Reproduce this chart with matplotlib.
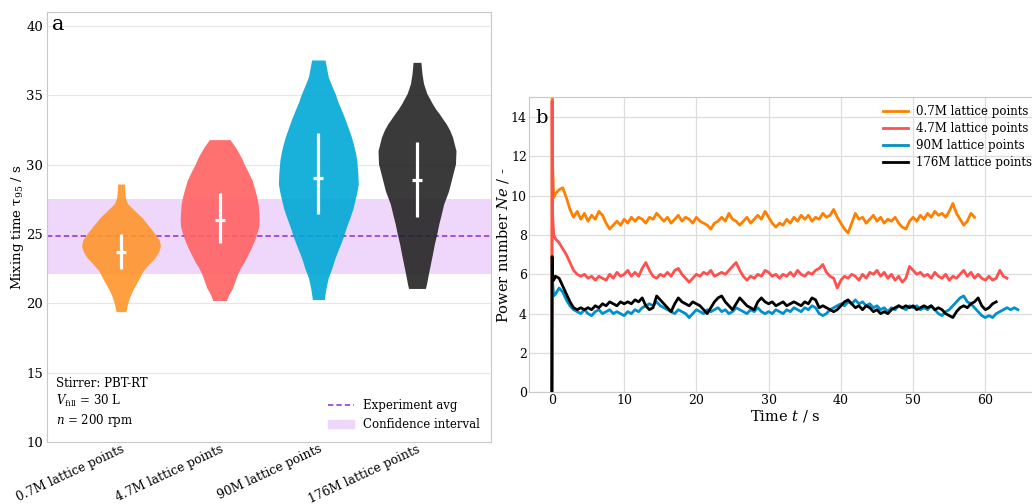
"""
Mixing time violins (a) and power number time series (b)
for four lattice resolutions.
"""

import numpy as np
import matplotlib
matplotlib.use("Agg")
import matplotlib.pyplot as plt
from matplotlib.lines import Line2D
from matplotlib.patches import Patch

plt.rcParams["font.family"] = ["DejaVu Serif"]
plt.rcParams["mathtext.fontset"] = "dejavuserif"


GRIDS = ["0.7M lattice points", "4.7M lattice points", "90M lattice points", "176M lattice points"]

# panel a: violin outlines (mixing time in s, half width in category units)
ORANGE_Y = [19.4, 19.9, 20.4, 20.9, 21.35, 21.8, 22.3, 22.8, 23.3, 23.7, 24.15,
            24.6, 25.0, 25.46, 25.85, 26.2, 26.6, 26.95, 27.2, 27.6, 28.1, 28.6]
ORANGE_W = [0.05, 0.065, 0.085, 0.115, 0.15, 0.185, 0.22, 0.28, 0.345, 0.38, 0.40,
            0.385, 0.345, 0.295, 0.25, 0.21, 0.15, 0.10, 0.065, 0.045, 0.037, 0.035]

RED_Y = [20.2, 20.6, 21.1, 21.6, 22.1, 22.6, 23.0, 23.5, 24.0, 24.5, 25.0, 25.5,
         25.95, 26.5, 27.15, 27.7, 28.1, 28.85, 29.6, 30.0, 30.5, 31.25, 31.8]
RED_W = [0.07, 0.09, 0.13, 0.155, 0.18, 0.215, 0.25, 0.285, 0.32, 0.35, 0.375, 0.395,
         0.40, 0.397, 0.39, 0.375, 0.36, 0.33, 0.28, 0.25, 0.22, 0.16, 0.105]

CYAN_Y = [20.27, 21.0, 21.83, 22.5, 23.28, 24.0, 24.73, 25.5, 26.18, 26.8, 27.39,
          28.0, 28.6, 29.4, 30.29, 30.9, 31.5, 32.1, 32.7, 33.3, 33.91, 34.5,
          35.12, 35.7, 36.33, 36.9, 37.54]
CYAN_W = [0.06, 0.075, 0.10, 0.135, 0.17, 0.21, 0.25, 0.285, 0.32, 0.35, 0.37,
          0.39, 0.405, 0.40, 0.39, 0.375, 0.355, 0.33, 0.30, 0.27, 0.235, 0.20,
          0.17, 0.135, 0.10, 0.085, 0.068]

DARK_Y = [21.07, 21.35, 22.1, 22.8, 23.5, 24.25, 25.0, 25.7, 26.4, 27.15, 28.1,
          29.08, 30.05, 31.0, 31.98, 32.5, 32.95, 33.3, 33.67, 34.0, 34.4,
          34.8, 35.12, 35.5, 35.85, 36.57, 37.37]
DARK_W = [0.085, 0.095, 0.115, 0.135, 0.155, 0.175, 0.20, 0.22, 0.245, 0.27, 0.32,
          0.355, 0.39, 0.395, 0.36, 0.33, 0.295, 0.26, 0.225, 0.19, 0.155,
          0.125, 0.10, 0.082, 0.066, 0.05, 0.04]

# inner bar: lower end, upper end, centre mark
INNER_LO = [22.44, 24.37, 26.43, 26.23]
INNER_HI = [24.98, 27.92, 32.27, 31.62]
INNER_MID = [23.7, 26.0, 29.06, 28.89]

EXP_AVG = 24.86
CI_LO = 22.12
CI_HI = 27.52

# panel b: power number Ne, start-up transient then 0.5 s samples from t = 0.5 s
START_T = [0.0, 0.03, 0.1, 0.25]
ORANGE_START = [0.0, 20.0, 11.5, 9.9]
RED_START = [0.0, 14.8, 9.0, 8.0]
BLUE_START = [0.0, 6.5, 5.6, 4.9]
BLACK_START = [0.0, 6.9, 6.0, 5.7]

ORANGE_NE = [
    10.1, 10.3, 10.4, 9.9, 9.3, 8.9, 9.2, 8.8, 9.1, 8.7,
    9.0, 8.8, 9.2, 9.0, 8.6, 8.3, 8.5, 8.7, 8.5, 8.8,
    8.6, 8.9, 8.7, 8.9, 8.8, 8.6, 8.9, 8.8, 9.1, 8.9,
    8.7, 8.9, 8.6, 8.8, 9.0, 8.7, 8.9, 8.8, 8.6, 8.9,
    8.7, 8.6, 8.5, 8.3, 8.6, 8.7, 8.9, 8.7, 9.1, 8.8,
    8.7, 8.5, 8.7, 8.9, 8.6, 8.8, 9.0, 8.8, 9.2, 8.9,
    8.6, 8.4, 8.6, 8.5, 8.8, 8.6, 8.9, 8.7, 9.0, 8.8,
    9.0, 8.7, 8.9, 8.8, 9.1, 8.9, 9.0, 9.3, 8.9, 8.6,
    8.3, 8.1, 8.6, 9.1, 8.8, 8.9, 8.6, 8.8, 9.0, 8.7,
    8.9, 8.6, 8.8, 8.7, 8.9, 8.6, 8.4, 8.3, 8.7, 8.9,
    8.7, 9.0, 8.8, 9.1, 8.9, 9.2, 9.0, 9.1, 8.9, 9.2,
    9.6, 9.1, 8.8, 8.5, 8.7, 9.1, 8.9,
]

RED_NE = [
    7.8, 7.6, 7.3, 7.0, 6.6, 6.2, 6.0, 5.9, 6.0, 5.8,
    5.9, 5.7, 5.9, 5.8, 5.7, 6.0, 5.8, 6.1, 5.9, 6.0,
    6.2, 5.9, 6.1, 5.9, 6.3, 6.6, 6.2, 5.9, 5.8, 6.0,
    5.9, 6.1, 5.9, 6.2, 6.3, 6.0, 5.8, 5.6, 5.8, 6.0,
    5.9, 6.1, 6.0, 6.2, 5.9, 6.0, 6.1, 6.0, 6.2, 6.4,
    6.6, 6.2, 5.9, 5.7, 5.9, 5.8, 6.0, 5.9, 6.2, 6.1,
    5.9, 6.0, 5.8, 6.0, 5.9, 6.1, 5.9, 6.2, 6.0, 5.9,
    6.1, 6.0, 6.2, 6.3, 6.5, 6.1, 5.9, 5.8, 5.3, 5.7,
    5.9, 5.8, 6.0, 5.9, 5.7, 6.0, 5.8, 6.1, 6.0, 6.2,
    5.9, 6.1, 5.8, 6.0, 5.7, 5.9, 5.6, 5.8, 6.4, 6.2,
    6.0, 6.1, 5.9, 6.0, 5.8, 6.1, 5.9, 5.8, 6.0, 5.7,
    5.9, 5.8, 6.0, 6.2, 5.9, 6.1, 5.8, 6.0, 5.8, 5.7,
    5.9, 5.7, 5.8, 6.2, 5.9, 5.8,
]

BLUE_NE = [
    5.0, 5.3, 5.1, 4.7, 4.4, 4.2, 4.1, 4.0, 4.2, 4.0,
    3.9, 4.1, 4.2, 4.0, 4.1, 4.2, 4.0, 4.1, 4.0, 3.9,
    4.1, 4.0, 4.2, 4.1, 4.3, 4.4, 4.5, 4.4, 4.6, 4.4,
    4.3, 4.2, 4.1, 4.0, 4.2, 4.1, 4.0, 3.8, 4.0, 4.2,
    4.1, 4.0, 4.2, 4.1, 4.2, 4.3, 4.1, 4.2, 4.0, 4.1,
    4.3, 4.2, 4.1, 4.0, 4.2, 4.1, 4.3, 4.1, 4.0, 4.1,
    4.0, 4.2, 4.1, 4.0, 4.2, 4.1, 4.3, 4.2, 4.1, 4.3,
    4.2, 4.4, 4.3, 4.0, 3.9, 4.0, 4.2, 4.3, 4.4, 4.5,
    4.4, 4.6, 4.5, 4.7, 4.5, 4.6, 4.4, 4.5, 4.3, 4.4,
    4.2, 4.3, 4.1, 4.3, 4.2, 4.4, 4.3, 4.2, 4.4, 4.3,
    4.4, 4.2, 4.3, 4.2, 4.4, 4.2, 4.0, 3.9, 4.1, 4.2,
    4.4, 4.6, 4.8, 4.9, 4.6, 4.5, 4.3, 4.1, 3.9, 3.8,
    3.9, 3.8, 4.0, 4.1, 4.2, 4.3, 4.2, 4.3, 4.2,
]

BLACK_NE = [
    5.9, 5.8, 5.4, 5.0, 4.6, 4.3, 4.2, 4.3, 4.2, 4.3,
    4.2, 4.4, 4.3, 4.5, 4.4, 4.6, 4.5, 4.4, 4.6, 4.5,
    4.6, 4.5, 4.7, 4.6, 4.8, 4.4, 4.2, 4.3, 4.9, 4.7,
    4.5, 4.3, 4.1, 4.5, 4.8, 4.6, 4.5, 4.4, 4.6, 4.5,
    4.4, 4.2, 4.0, 4.3, 4.6, 4.8, 4.9, 4.6, 4.4, 4.2,
    4.5, 4.8, 4.6, 4.4, 4.3, 4.2, 4.6, 4.8, 4.6, 4.5,
    4.6, 4.4, 4.5, 4.6, 4.4, 4.5, 4.6, 4.5, 4.4, 4.6,
    4.5, 4.8, 4.7, 4.3, 4.4, 4.3, 4.2, 4.1, 4.2, 4.4,
    4.6, 4.7, 4.5, 4.3, 4.4, 4.2, 4.4, 4.3, 4.1, 4.2,
    4.0, 4.1, 4.0, 4.2, 4.3, 4.4, 4.3, 4.4, 4.3, 4.4,
    4.2, 4.3, 4.4, 4.3, 4.4, 4.2, 4.3, 4.2, 4.0, 3.9,
    3.8, 4.1, 4.3, 4.4, 4.3, 4.5, 4.6, 4.8, 4.4, 4.2,
    4.3, 4.5, 4.6,
]

VIOLIN_COLORS = ["#FF952B", "#FF6262", "#00A8D6", "#242424"]
LINE_COLORS = ["#FF8000", "#FF5050", "#0090CC", "#000000"]
BAND_COLOR = "#EFD6FB"
AVG_COLOR = "#8E2BD8"
SPINE_COLOR = "#C8C8C8"


def series(start_v, steady_v):
    t = np.concatenate([START_T, 0.5 + 0.5 * np.arange(len(steady_v))])
    v = np.concatenate([start_v, steady_v])
    return t, v


fig = plt.figure(figsize=(10.32, 5.04), dpi=100)

# ---------------- panel a ----------------
ax1 = fig.add_axes([47 / 1032, 62 / 504, 444 / 1032, 430 / 504])
ax1.axhspan(CI_LO, CI_HI, color=BAND_COLOR, lw=0, zorder=1)
ax1.axhline(EXP_AVG, color=AVG_COLOR, lw=1.1, ls=(0, (3.5, 2)), zorder=2)

profiles = [(ORANGE_Y, ORANGE_W), (RED_Y, RED_W), (CYAN_Y, CYAN_W), (DARK_Y, DARK_W)]
for i, (ys, ws) in enumerate(profiles):
    ys = np.array(ys)
    ws = np.array(ws)
    ax1.fill_betweenx(ys, i - ws, i + ws, color=VIOLIN_COLORS[i], alpha=0.9, lw=0, zorder=3)
    ax1.plot([i, i], [INNER_LO[i], INNER_HI[i]], color="white", lw=2.3,
             solid_capstyle="butt", zorder=4)
    ax1.plot([i - 0.05, i + 0.05], [INNER_MID[i], INNER_MID[i]], color="white", lw=2.3,
             solid_capstyle="butt", zorder=4)

ax1.set_xlim(-0.75, 3.75)
ax1.set_ylim(10, 41)
ax1.set_yticks([10, 15, 20, 25, 30, 35, 40])
ax1.set_xticks(range(4))
ax1.set_xticklabels(GRIDS, rotation=25, ha="right", rotation_mode="anchor", fontsize=8.8)
ax1.tick_params(axis="y", length=0, labelsize=9.5, pad=3)
ax1.tick_params(axis="x", length=0, pad=0.5)
ax1.yaxis.grid(True, color="#E6E6E6", lw=0.8)
ax1.set_axisbelow(True)
for s in ax1.spines.values():
    s.set_color(SPINE_COLOR)
ax1.set_ylabel("Mixing time τ$_{95}$ / s", fontsize=9.5, labelpad=0)

ax1.text(0.012, 0.957, "a", transform=ax1.transAxes, fontsize=15, ha="left", va="baseline")
ax1.text(0.02, 0.03, "Stirrer: PBT-RT\n$V_{\\mathrm{fill}}$ = 30 L\n$n$ = 200 rpm",
         transform=ax1.transAxes, fontsize=8.5, ha="left", va="bottom", linespacing=1.25)

handles = [Line2D([], [], color=AVG_COLOR, lw=1.1, ls=(0, (3.5, 2))),
           Patch(color=BAND_COLOR)]
ax1.legend(handles, ["Experiment avg", "Confidence interval"], loc="lower right",
           frameon=False, fontsize=8.5, handlelength=2.2, handletextpad=0.8)

# ---------------- panel b ----------------
ax2 = fig.add_axes([529 / 1032, 111.7 / 504, 512 / 1032, 295 / 504])
ax2.plot(*series(ORANGE_START, ORANGE_NE), color=LINE_COLORS[0], lw=2.0, label=GRIDS[0], zorder=2)
ax2.plot(*series(RED_START, RED_NE), color=LINE_COLORS[1], lw=2.0, label=GRIDS[1], zorder=3)
ax2.plot(*series(BLUE_START, BLUE_NE), color=LINE_COLORS[2], lw=2.0, label=GRIDS[2], zorder=4)
ax2.plot(*series(BLACK_START, BLACK_NE), color=LINE_COLORS[3], lw=2.0, label=GRIDS[3], zorder=5)

ax2.set_xlim(-3.17, 67.7)
ax2.set_ylim(0, 15)
ax2.set_xticks(range(0, 61, 10))
ax2.set_yticks(range(0, 15, 2))
ax2.tick_params(axis="both", length=0, labelsize=9, pad=1.5)
ax2.grid(True, color="#DDDDDD", lw=0.9)
ax2.set_axisbelow(True)
for s in ax2.spines.values():
    s.set_color(SPINE_COLOR)
ax2.set_xlabel("Time $t$ / s", fontsize=10.5, labelpad=0.5)
ax2.set_ylabel("Power number $Ne$ / -", fontsize=10.5, labelpad=0)
ax2.text(0.012, 0.914, "b", transform=ax2.transAxes, fontsize=14, ha="left", va="baseline")

ax2.legend(loc="upper left", bbox_to_anchor=(0.691, 0.975), frameon=False, fontsize=8.5,
           borderpad=0, borderaxespad=0, handlelength=2.1, handletextpad=0.7,
           labelspacing=0.35)

fig.savefig("out.png", dpi=100)
